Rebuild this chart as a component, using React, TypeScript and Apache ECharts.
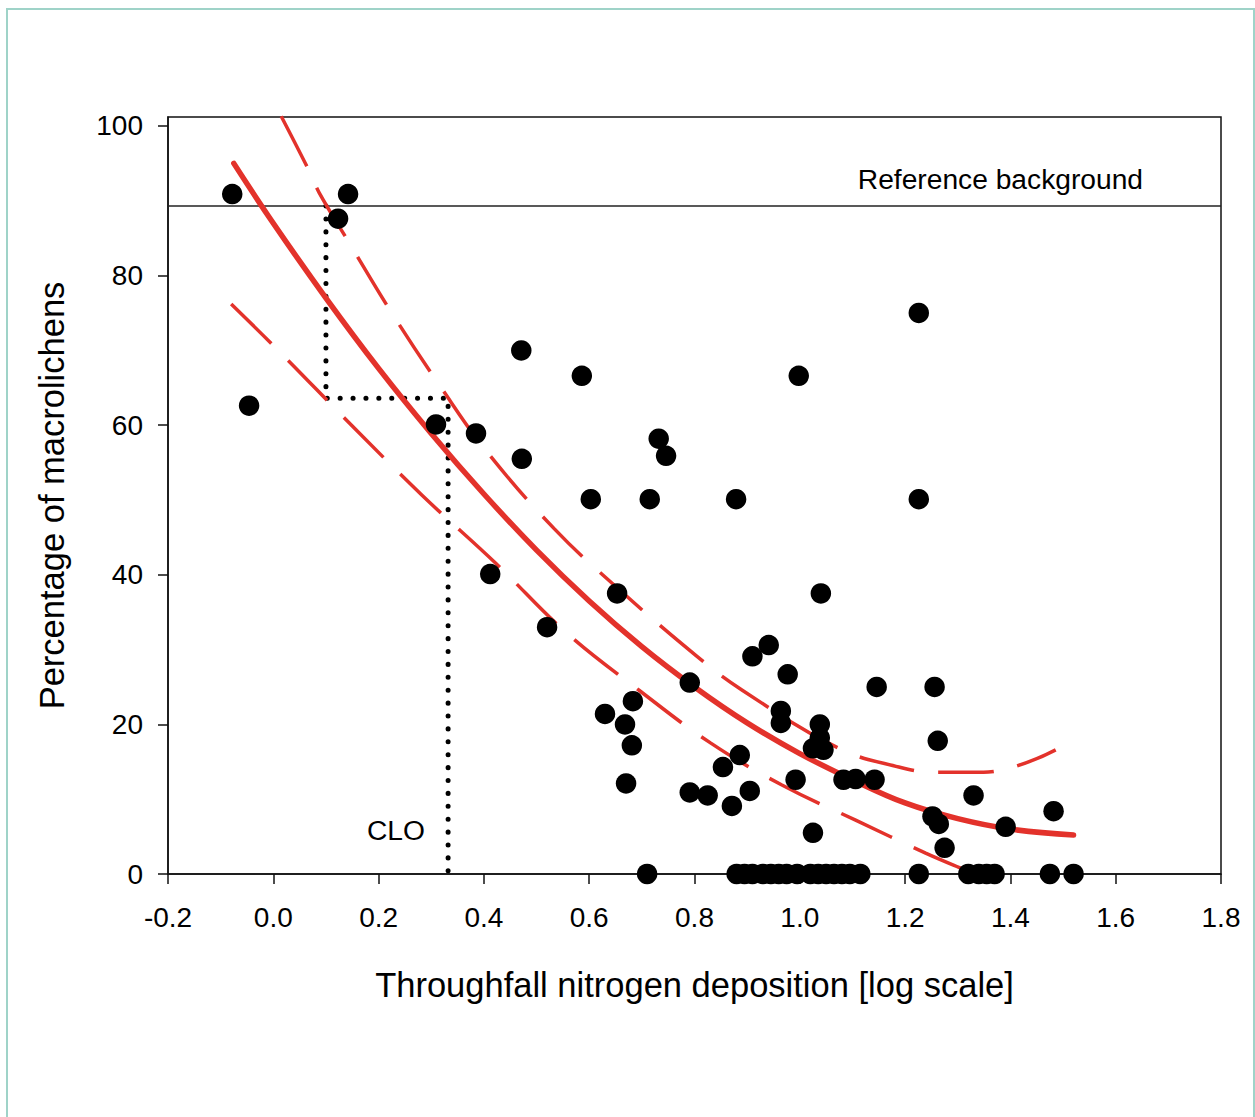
import React, { useEffect, useRef } from "react";
import * as echarts from "echarts";

// Observed sites: nitrogen deposition (log) vs % macrolichens
const siteX = [
  -0.078, -0.046, 0.123, 0.142, 0.309, 0.385, 0.412, 0.471, 0.472, 0.52,
  0.586, 0.603, 0.653, 0.63, 0.668, 0.681, 0.67, 0.683, 0.715, 0.732,
  0.746, 0.791, 0.791, 0.825, 0.854, 0.871, 0.886, 0.879, 0.905, 0.91,
  0.941, 0.964, 0.964, 0.977, 0.998, 0.992, 1.025, 1.025, 1.045, 1.038,
  1.038, 1.04, 1.083, 1.106, 1.146, 1.142, 1.226, 1.226, 1.256, 1.262,
  1.252, 1.264, 1.275, 1.33, 1.391, 1.482,
  // zero-valued sites
  0.71, 0.88, 0.895, 0.91, 0.93, 0.945, 0.96, 0.975, 0.995, 1.02, 1.035,
  1.05, 1.065, 1.08, 1.095, 1.115, 1.226, 1.32, 1.34, 1.355, 1.37, 1.475,
  1.52,
];
const siteY = [
  90.9, 62.6, 87.6, 90.9, 60.1, 58.9, 40.1, 70.0, 55.5, 33.0,
  66.6, 50.1, 37.5, 21.4, 20.0, 17.2, 12.1, 23.1, 50.1, 58.2,
  55.9, 25.6, 10.9, 10.5, 14.3, 9.1, 15.9, 50.1, 11.1, 29.1,
  30.6, 21.8, 20.2, 26.7, 66.6, 12.6, 5.5, 16.8, 16.6, 18.2,
  20.0, 37.5, 12.6, 12.7, 25.0, 12.6, 75.0, 50.1, 25.0, 17.8,
  7.7, 6.7, 3.5, 10.5, 6.3, 8.4,
  0, 0, 0, 0, 0, 0, 0, 0, 0, 0, 0,
  0, 0, 0, 0, 0, 0, 0, 0, 0, 0, 0,
  0,
];

// Fitted curve
const fitX = [-0.075, 0.0, 0.1, 0.2, 0.3, 0.4, 0.5, 0.6, 0.7, 0.8, 0.9, 1.0, 1.1, 1.2, 1.3, 1.4, 1.52];
const fitY = [95.0, 87.0, 77.0, 67.6, 58.9, 50.8, 43.3, 36.5, 30.4, 25.0, 20.2, 16.1, 12.6, 9.5, 7.4, 6.0, 5.2];

// Upper confidence band
const upperX = [0.015, 0.068, 0.087, 0.144, 0.226, 0.318, 0.404, 0.533, 0.643, 0.803, 0.89, 1.074, 1.188, 1.254, 1.349, 1.486];
const upperY = [101.3, 94.0, 91.1, 84.4, 74.9, 65.1, 56.6, 46.2, 38.9, 29.2, 24.6, 16.8, 14.3, 13.6, 13.6, 16.6];

// Lower confidence band
const lowerX = [-0.08, 0.015, 0.15, 0.283, 0.423, 0.556, 0.694, 0.831, 0.966, 1.106, 1.239, 1.302, 1.335];
const lowerY = [76.2, 69.6, 59.9, 50.6, 41.5, 32.3, 24.6, 17.5, 11.9, 7.2, 2.8, 0.9, 0.0];

// Reference background level and critical load (CLO) construction
const referenceLevel = 89.3;
const cloLevelY = 63.6;
const cloStartX = 0.1;
const cloX = 0.332;

const xTicks = [-0.2, 0.0, 0.2, 0.4, 0.6, 0.8, 1.0, 1.2, 1.4, 1.6, 1.8];
const yTicks = [0, 20, 40, 60, 80, 100];

const FONT = "'Liberation Sans', Arial, Helvetica, sans-serif";
const RED = "#e3322b";
const INK = "#000";

export default function App() {
  const ref = useRef<HTMLDivElement>(null);

  useEffect(() => {
    if (!ref.current) return;
    const chart = echarts.init(ref.current, undefined, { renderer: "svg" });

    const zip = (xs: number[], ys: number[]) => xs.map((x, i) => [x, ys[i]]);

    chart.setOption({
      animation: false,
      backgroundColor: "#ffffff",
      textStyle: { fontFamily: FONT },
      graphic: [
        {
          type: "rect",
          shape: { x: 7, y: 9, width: 1247, height: 1140 },
          style: { fill: "none", stroke: "#9fd3c8", lineWidth: 2 },
          silent: true,
          z: -10,
        },
      ],
      grid: {
        left: 168,
        right: 34,
        top: 117,
        bottom: 243,
        show: true,
        borderColor: "#111",
        borderWidth: 1.5,
        backgroundColor: "transparent",
      },
      xAxis: {
        type: "value",
        min: -0.2,
        max: 1.8,
        interval: 0.2,
        name: "Throughfall nitrogen deposition [log scale]",
        nameLocation: "middle",
        nameGap: 93,
        nameTextStyle: { fontSize: 34.5, color: INK, fontFamily: FONT },
        axisLine: { show: true, onZero: false, lineStyle: { color: "#111", width: 1.5 } },
        axisTick: { show: true, inside: false, length: 10, lineStyle: { color: "#111", width: 1.5 }, customValues: xTicks },
        axisLabel: {
          fontSize: 28,
          color: INK,
          margin: 29,
          fontFamily: FONT,
          customValues: xTicks,
          formatter: (v: number) => v.toFixed(1),
        },
        splitLine: { show: false },
      },
      yAxis: {
        type: "value",
        min: 0,
        max: 101.2,
        interval: 20,
        name: "Percentage of macrolichens",
        nameLocation: "middle",
        nameGap: 99,
        nameTextStyle: { fontSize: 34.5, color: INK, fontFamily: FONT },
        axisLine: { show: true, onZero: false, lineStyle: { color: "#111", width: 1.5 } },
        axisTick: { show: true, inside: false, length: 10, lineStyle: { color: "#111", width: 1.5 }, customValues: yTicks },
        axisLabel: {
          fontSize: 28,
          color: INK,
          margin: 25,
          fontFamily: FONT,
          customValues: yTicks,
          formatter: (v: number) => (Math.abs(v % 20) < 1e-6 ? String(Math.round(v)) : ""),
        },
        splitLine: { show: false },
      },
      series: [
        {
          name: "reference",
          type: "line",
          data: [
            [-0.2, referenceLevel],
            [1.8, referenceLevel],
          ],
          symbol: "none",
          silent: true,
          lineStyle: { color: "#222", width: 1.5 },
          z: 2,
        },
        {
          name: "clo",
          type: "line",
          data: [
            [cloStartX, referenceLevel],
            [cloStartX, cloLevelY],
            [cloX, cloLevelY],
            [cloX, 0],
          ],
          symbol: "none",
          silent: true,
          lineStyle: { color: "#000", width: 5, type: [0.1, 12.8], cap: "round" },
          z: 3,
        },
        {
          name: "upper",
          type: "line",
          data: zip(upperX, upperY),
          smooth: 0.4,
          symbol: "none",
          silent: true,
          clip: true,
          lineStyle: { color: RED, width: 3.5, type: [56, 24] },
          z: 4,
        },
        {
          name: "lower",
          type: "line",
          data: zip(lowerX, lowerY),
          smooth: 0.4,
          symbol: "none",
          silent: true,
          clip: true,
          lineStyle: { color: RED, width: 3.5, type: [56, 24] },
          z: 4,
        },
        {
          name: "fit",
          type: "line",
          data: zip(fitX, fitY),
          smooth: 0.4,
          symbol: "none",
          silent: true,
          lineStyle: { color: RED, width: 5.5, cap: "round" },
          z: 5,
        },
        {
          name: "sites",
          type: "scatter",
          data: zip(siteX, siteY),
          symbol: "circle",
          symbolSize: 20.5,
          itemStyle: { color: "#000", opacity: 1 },
          clip: false,
          z: 10,
        },
        {
          name: "labels",
          type: "scatter",
          symbolSize: 0,
          silent: true,
          itemStyle: { opacity: 1 },
          data: [
            { value: [1.381, 92.9], label: { formatter: "Reference background" } },
            { value: [0.233, 5.9], label: { formatter: "CLO" } },
          ],
          label: {
            show: true,
            position: "inside",
            fontSize: 28.2,
            color: INK,
            opacity: 1,
            fontFamily: FONT,
          },
          z: 11,
        },
      ],
    });

    return () => chart.dispose();
  }, []);

  return (
    <div
      ref={ref}
      style={{ position: "absolute", left: 0, top: 0, width: 1255, height: 1117, background: "#fff" }}
    />
  );
}
